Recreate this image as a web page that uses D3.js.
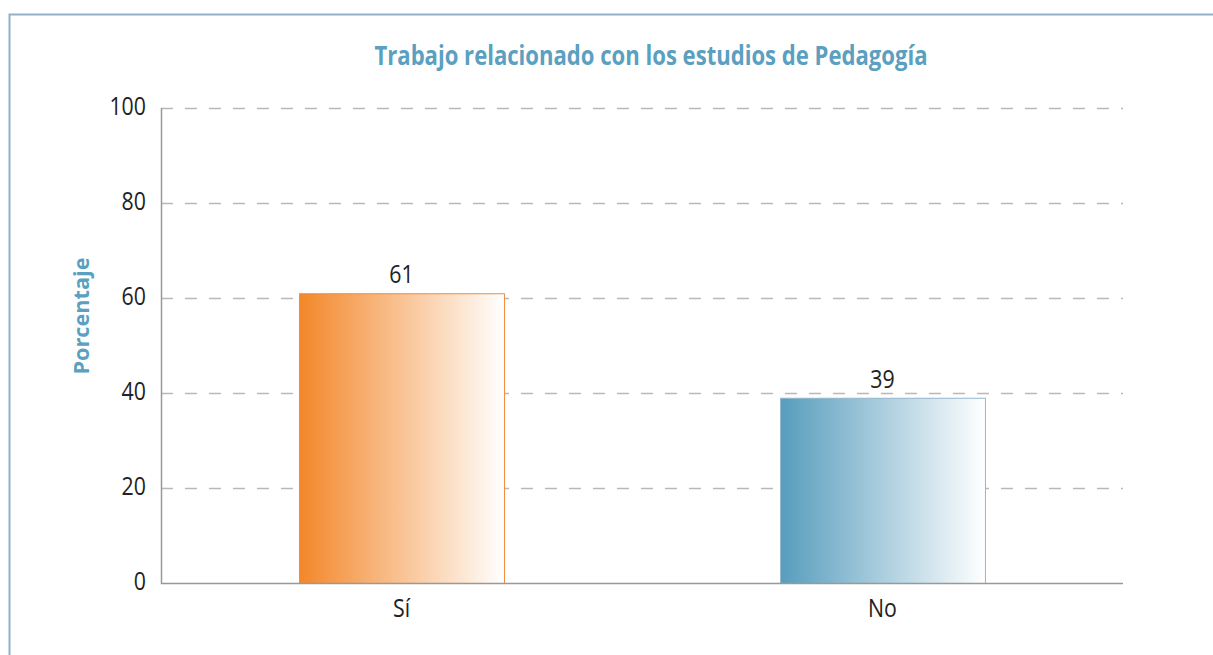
<!DOCTYPE html>
<html><head><meta charset="utf-8">
<script src="https://cdn.jsdelivr.net/npm/d3@7"></script>
<style>html,body{margin:0;padding:0;background:#fff;}svg{display:block;}</style>
</head><body>
<script>
const categories = ["Sí", "No"];
const values = [61, 39];
const yTicks = [0, 20, 40, 60, 80, 100];
const title = "Trabajo relacionado con los estudios de Pedagogía";
const yTitle = "Porcentaje";

const W = 1213, H = 655;
const m = {left: 161, right: 1123, top: 108, bottom: 583};
const svg = d3.select("body").append("svg").attr("width", W).attr("height", H);

const defs = svg.append("defs");
const grads = [["gOrange", "#f3872a"], ["gBlue", "#579dbd"]];
grads.forEach(([id, c]) => {
  const g = defs.append("linearGradient").attr("id", id).attr("x1", "0%").attr("x2", "100%").attr("y1", "0%").attr("y2", "0%");
  g.append("stop").attr("offset", "0%").attr("stop-color", c);
  g.append("stop").attr("offset", "100%").attr("stop-color", "#ffffff");
});

// frame
svg.append("path").attr("d", `M9.5,${H} L9.5,14.5 L${W},14.5`).attr("fill", "none").attr("stroke", "#8fb1c9").attr("stroke-width", 2);

const x = d3.scaleBand().domain(categories).range([m.left, m.right]).paddingInner(0.574).paddingOuter(0.287);
const y = d3.scaleLinear().domain([0, 100]).range([m.bottom, m.top]);

const font = "'Open Sans', 'Noto Sans', sans-serif";
const sx = 0.82;

// grid
svg.append("g").selectAll("line").data(yTicks.filter(d => d > 0)).join("line")
  .attr("x1", m.left).attr("x2", m.right)
  .attr("y1", d => Math.round(y(d)) + 0.5).attr("y2", d => Math.round(y(d)) + 0.5)
  .attr("stroke", "#b8b8b8").attr("stroke-width", 1.4).attr("stroke-dasharray", "12,12");

// bars
const fills = ["url(#gOrange)", "url(#gBlue)"];
const strokes = ["#f08a3a", "#93b6cd"];
svg.append("g").selectAll("rect").data(values).join("rect")
  .attr("x", (d, i) => x(categories[i]) + 0.5)
  .attr("y", d => y(d) + 0.5)
  .attr("width", x.bandwidth())
  .attr("height", d => y(0) - y(d))
  .attr("fill", (d, i) => fills[i])
  .attr("stroke", (d, i) => strokes[i]).attr("stroke-width", 1);

// axes lines
svg.append("path").attr("d", `M${m.left + 0.5},${m.top} L${m.left + 0.5},${m.bottom + 0.5} L${m.right},${m.bottom + 0.5}`)
  .attr("fill", "none").attr("stroke", "#999").attr("stroke-width", 1.5);

function label(g, px, py, txt, anchor) {
  g.append("text").attr("transform", `translate(${px},${py}) scale(${sx},1)`)
    .attr("text-anchor", anchor).attr("font-family", font).attr("font-size", 26).attr("fill", "#222")
    .text(txt);
}

// y tick labels
const gy = svg.append("g");
yTicks.forEach(d => label(gy, 146, y(d) + 7, d, "end"));

// x labels
const gx = svg.append("g");
categories.forEach(c => label(gx, x(c) + x.bandwidth() / 2, 617, c, "middle"));

// value labels
const gv = svg.append("g");
values.forEach((d, i) => label(gv, x(categories[i]) + x.bandwidth() / 2, y(d) - 10, d, "middle"));

// title
svg.append("text").attr("x", 651).attr("y", 65).attr("text-anchor", "middle")
  .attr("font-family", font).attr("font-weight", "bold").attr("font-size", 26).attr("fill", "#5b9fc1")
  .attr("textLength", 553).attr("lengthAdjust", "spacingAndGlyphs")
  .text(title);

// y title
svg.append("text").attr("transform", "translate(89,316) rotate(-90)").attr("text-anchor", "middle")
  .attr("font-family", font).attr("font-weight", "bold").attr("font-size", 22).attr("fill", "#5b9fc1")
  .attr("textLength", 117).attr("lengthAdjust", "spacingAndGlyphs")
  .text(yTitle);
</script>
</body></html>
